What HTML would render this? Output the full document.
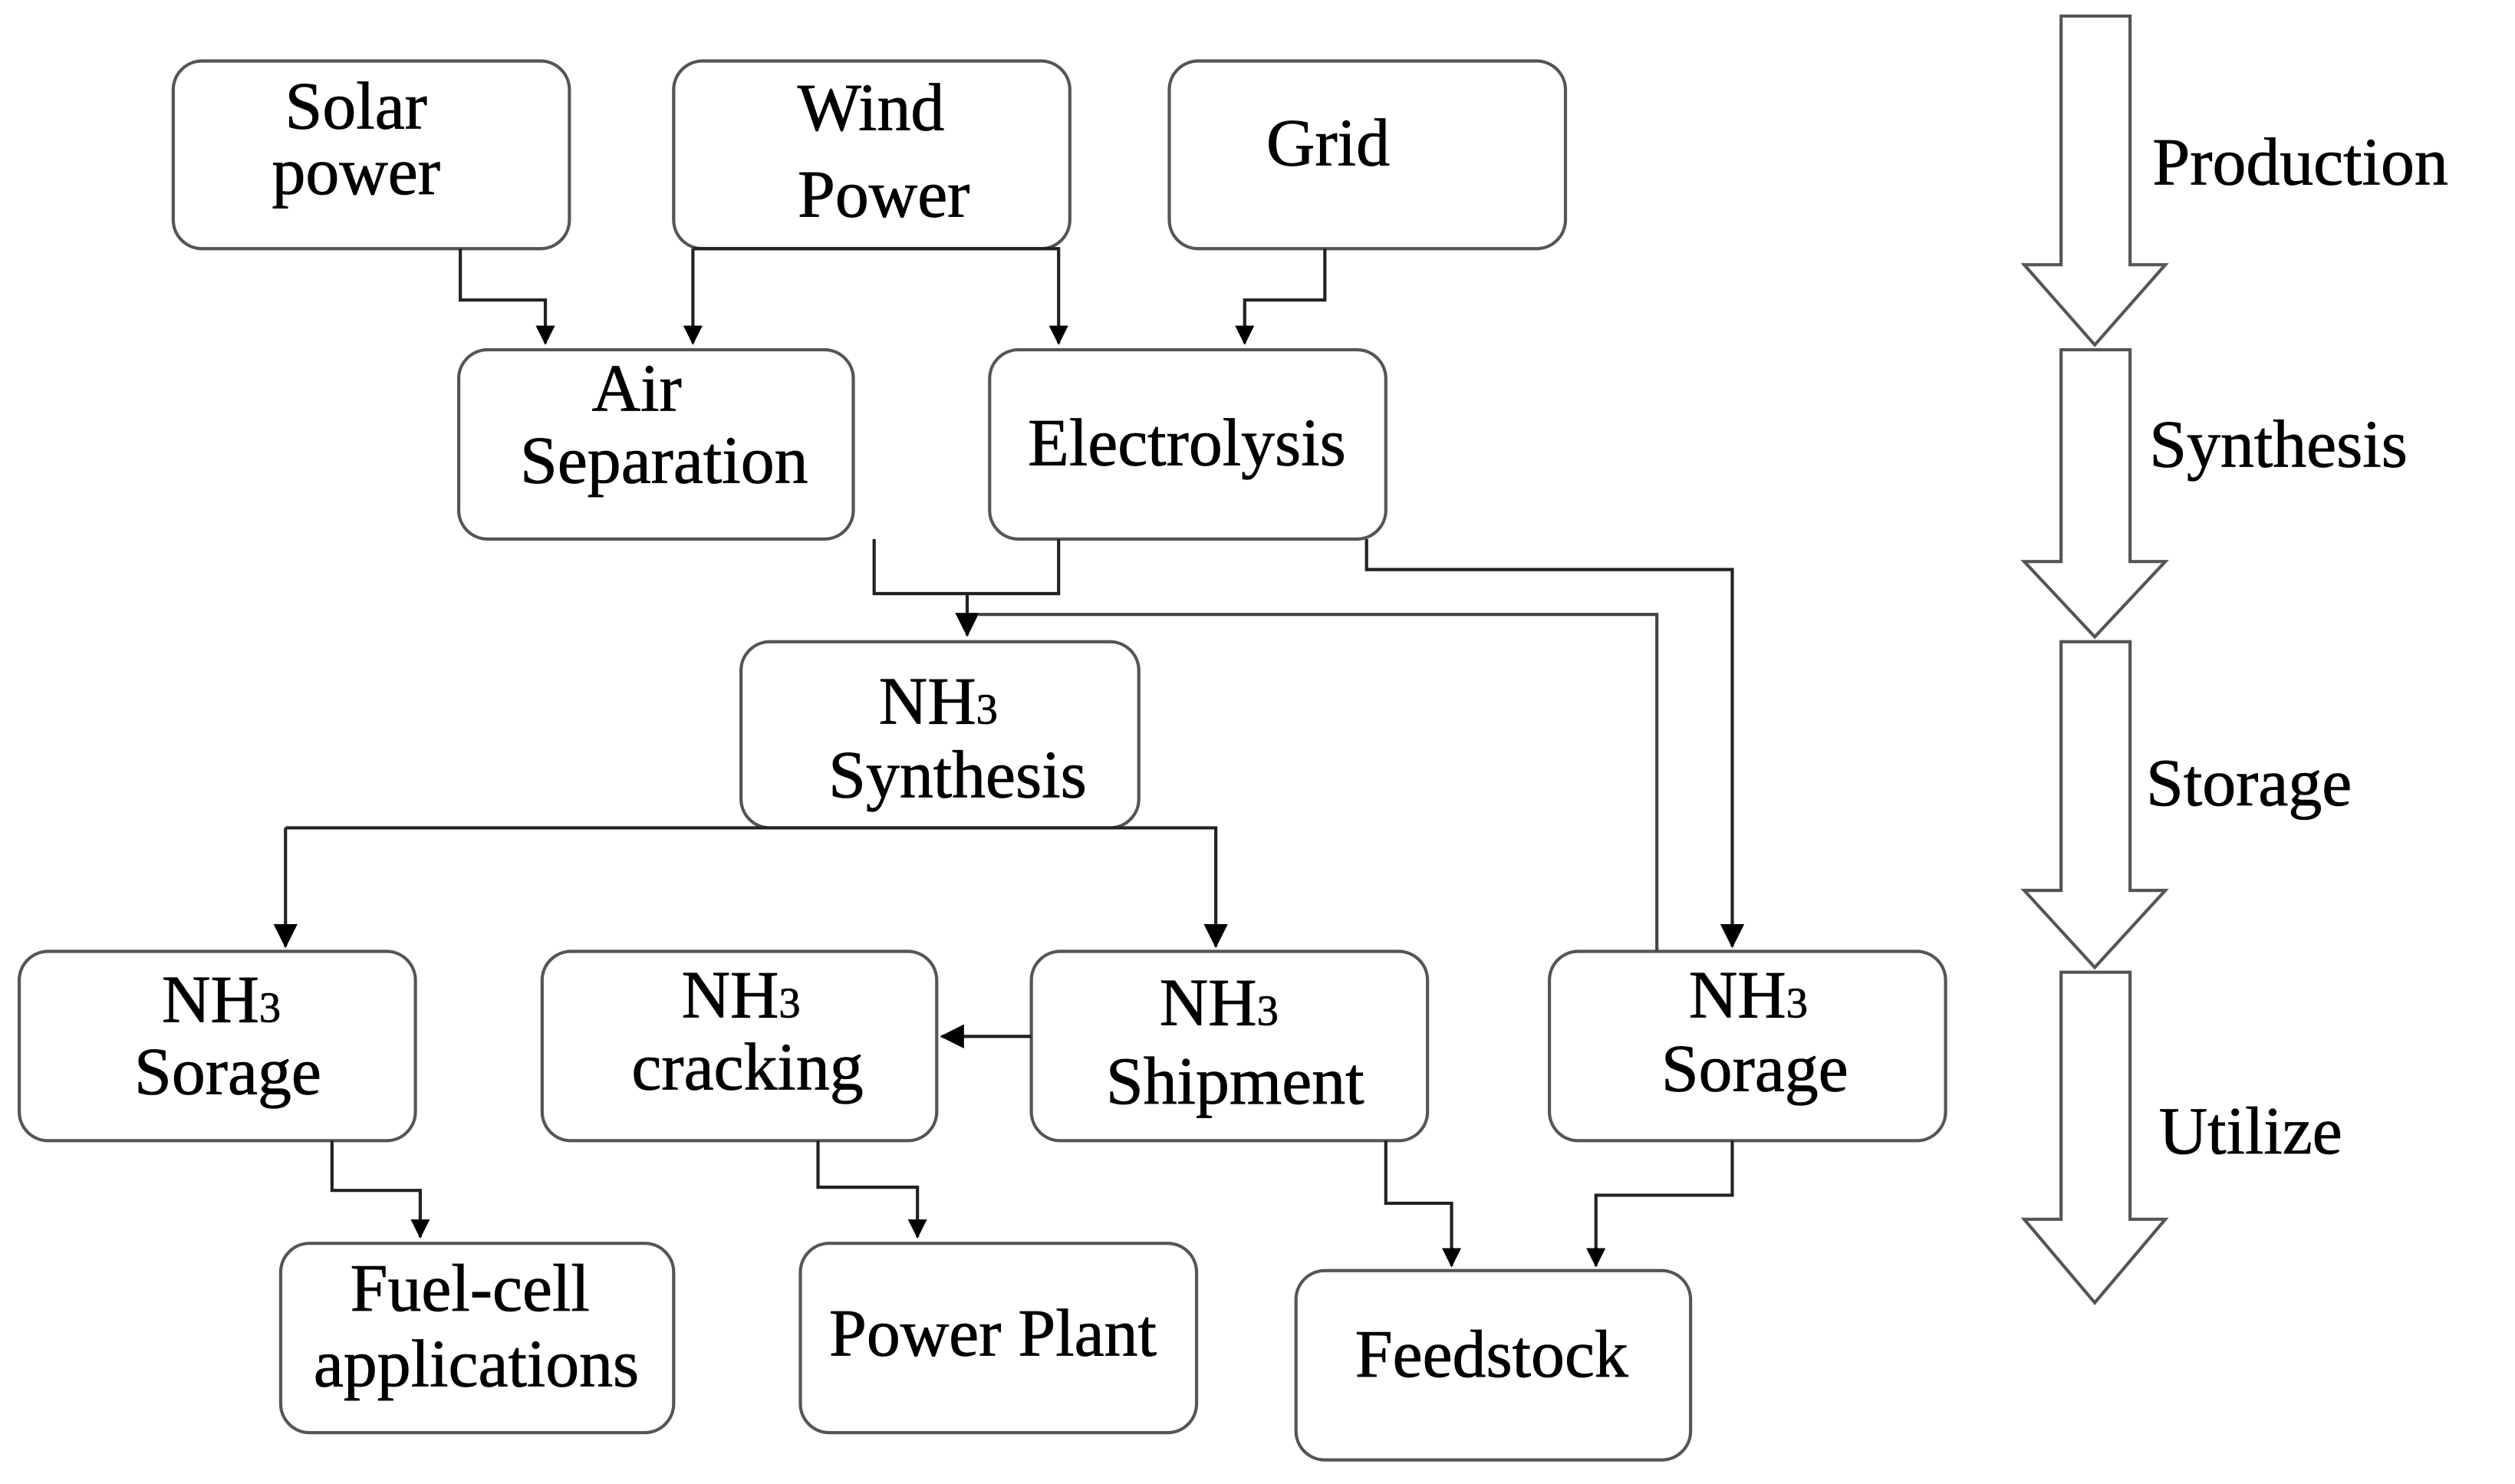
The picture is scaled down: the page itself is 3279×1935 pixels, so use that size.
<!DOCTYPE html>
<html><head><meta charset="utf-8"><style>
html,body{margin:0;padding:0;background:#fff;}
svg{display:block;}
text{font-family:"Liberation Serif",serif;font-size:42px;fill:#000;stroke:#000;stroke-width:0.4;}
</style></head><body>
<svg width="3279" height="1935" viewBox="0 0 1568 925" preserveAspectRatio="none" xmlns="http://www.w3.org/2000/svg">
<defs><marker id="a" markerWidth="12" markerHeight="12" refX="11" refY="6" orient="auto" markerUnits="userSpaceOnUse"><path d="M0,0 L12,6 L0,12 z" fill="#000"/></marker>
<marker id="b" markerWidth="15" markerHeight="15" refX="14" refY="7.5" orient="auto" markerUnits="userSpaceOnUse"><path d="M0,0 L15,7.5 L0,15 z" fill="#000"/></marker></defs>
<g fill="#fff" stroke="#555" stroke-width="2">
<rect x="108" y="38" width="247" height="117" rx="18"/>
<rect x="420" y="38" width="247" height="117" rx="18"/>
<rect x="729" y="38" width="247" height="117" rx="18"/>
<rect x="286" y="218" width="246" height="118" rx="18"/>
<rect x="617" y="218" width="247" height="118" rx="18"/>
<rect x="462" y="400" width="248" height="116" rx="18"/>
<rect x="12" y="593" width="247" height="118" rx="18"/>
<rect x="338" y="593" width="246" height="118" rx="18"/>
<rect x="643" y="593" width="247" height="118" rx="18"/>
<rect x="966" y="593" width="247" height="118" rx="18"/>
<rect x="175" y="775" width="245" height="118" rx="18"/>
<rect x="499" y="775" width="247" height="118" rx="18"/>
<rect x="808" y="792" width="246" height="118" rx="18"/>
</g>
<g fill="none" stroke="#222" stroke-width="2">
<path d="M287,155 V187 H340 V214" marker-end="url(#a)"/>
<path d="M432,155 V214" marker-end="url(#a)"/>
<path d="M432,155 H660 V214" marker-end="url(#a)"/>
<path d="M826,155 V187 H776 V214" marker-end="url(#a)"/>
<path d="M545,336 V370 H660 V336"/>
<path d="M603,370 V396" marker-end="url(#b)"/>
<path d="M610,383 H1033 V593" stroke="#444"/>
<path d="M852,336 V355 H1080 V590" marker-end="url(#b)"/>
<path d="M178,516 H758 V590" marker-end="url(#b)"/>
<path d="M178,516 V590" marker-end="url(#b)"/>
<path d="M643,646 H587" marker-end="url(#b)"/>
<path d="M207,711 V742 H262 V771" marker-end="url(#a)"/>
<path d="M510,711 V740 H572 V771" marker-end="url(#a)"/>
<path d="M864,711 V750 H905 V789" marker-end="url(#a)"/>
<path d="M1080,711 V745 H995 V789" marker-end="url(#a)"/>
</g>
<g fill="#fff" stroke="#555" stroke-width="2">
<path d="M1285,10 H1328 V165 H1350 L1306,215 L1262,165 H1285 Z"/>
<path d="M1285,218 H1328 V350 H1350 L1306,397 L1262,350 H1285 Z"/>
<path d="M1285,400 H1328 V555 H1350 L1306,603 L1262,555 H1285 Z"/>
<path d="M1285,606 H1328 V760 H1350 L1306,812 L1262,760 H1285 Z"/>
</g>
<g text-anchor="middle">
<text x="222" y="80">Solar</text><text x="222" y="121">power</text>
<text x="543" y="81">Wind</text><text x="551" y="135">Power</text>
<text x="828" y="103">Grid</text>
<text x="397" y="256">Air</text><text x="414" y="301">Separation</text>
<text x="740" y="290">Electrolysis</text>
<text x="585" y="451">NH<tspan font-size="27">3</tspan></text><text x="597" y="497">Synthesis</text>
<text x="138" y="637">NH<tspan font-size="27">3</tspan></text><text x="142" y="682">Sorage</text>
<text x="462" y="634">NH<tspan font-size="27">3</tspan></text><text x="466" y="679">cracking</text>
<text x="760" y="639">NH<tspan font-size="27">3</tspan></text><text x="770" y="688">Shipment</text>
<text x="1090" y="634">NH<tspan font-size="27">3</tspan></text><text x="1094" y="680">Sorage</text>
<text x="293" y="817">Fuel-cell</text><text x="297" y="864">applications</text>
<text x="619" y="845">Power Plant</text>
<text x="930" y="858">Feedstock</text>
</g>
<text x="1342" y="115">Production</text>
<text x="1340" y="291">Synthesis</text>
<text x="1338" y="502">Storage</text>
<text x="1346" y="719">Utilize</text>
</svg>
</body></html>
